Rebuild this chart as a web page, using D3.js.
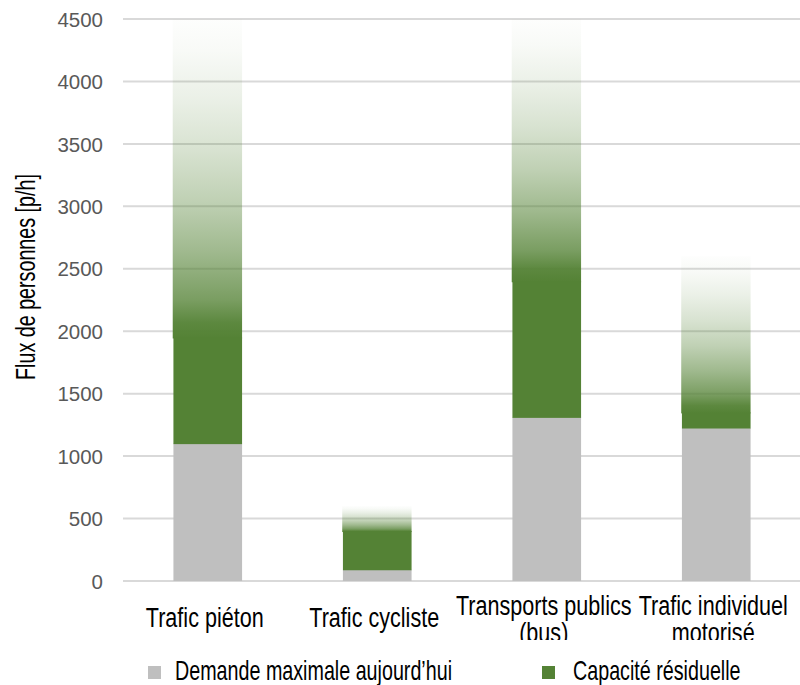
<!DOCTYPE html>
<html>
<head>
<meta charset="utf-8">
<script src="https://cdn.jsdelivr.net/npm/d3@7"></script>
<style>
  html, body { margin: 0; padding: 0; background: #ffffff; }
  svg { display: block; }
</style>
</head>
<body>
<div id="chart"></div>
<script>
// ---- Data ----
const categories = ["Trafic piéton", "Trafic cycliste", "Transports publics (bus)", "Trafic individuel motorisé"];
const categoryLines = [["Trafic piéton"], ["Trafic cycliste"], ["Transports publics", "(bus)"], ["Trafic individuel", "motorisé"]];
const demande = [1100, 90, 1310, 1225];             // Demande maximale aujourd'hui
const capaciteResiduelle = [850, 310, 1090, 125];    // Capacité résiduelle (solid part)
const capaciteIndicative = [4500, 600, 4500, 2600];  // upper end of faded capacity
const yTicks = [0, 500, 1000, 1500, 2000, 2500, 3000, 3500, 4000, 4500];
const legendLabels = ["Demande maximale aujourd’hui", "Capacité résiduelle"];
const yTitle = "Flux de personnes [p/h]";

// ---- Layout ----
const W = 800, H = 685;
const GREY = "#bfbfbf", GREEN = "#548235";
const FONT = "'Liberation Sans', Arial, sans-serif";

const svg = d3.select("#chart").append("svg").attr("width", W).attr("height", H);

const x = d3.scaleBand().domain(categories).range([123, 801]).paddingInner(0.595).paddingOuter(0.2975);
const y = d3.scaleLinear().domain([0, 4500]).range([581, 19]);

// gradient
const defs = svg.append("defs");
const grad = defs.append("linearGradient").attr("id", "fade").attr("x1", 0).attr("y1", 1).attr("x2", 0).attr("y2", 0);
[[0, 1], [0.05, 0.95], [0.12, 0.78], [0.27, 0.56], [0.43, 0.37], [0.59, 0.23], [0.75, 0.12], [0.9, 0.04], [1, 0.01]]
  .forEach(([o, a]) => grad.append("stop").attr("offset", o).attr("stop-color", GREEN).attr("stop-opacity", a));
defs.append("clipPath").attr("id", "lblclip").append("rect").attr("x", 0).attr("y", 585).attr("width", W).attr("height", 55);

// gridlines + y labels
const yAxis = d3.axisLeft(y).tickValues(yTicks).tickFormat(d3.format("d")).tickSize(0).tickPadding(0);
const gy = svg.append("g").attr("transform", "translate(103,0)").call(yAxis);
gy.select(".domain").remove();
gy.selectAll("text").attr("font-family", FONT).attr("font-size", 20.5)
  .attr("fill", "#595959").attr("dy", "0.35em").attr("x", 0);

svg.append("g").selectAll("line").data(yTicks).join("line")
  .attr("x1", 123).attr("x2", 800).attr("y1", d => y(d)).attr("y2", d => y(d))
  .attr("stroke", "#d9d9d9").attr("stroke-width", 2);

// bars
const idx = d3.range(categories.length);
const bars = svg.append("g");
bars.selectAll("rect.dem").data(idx).join("rect").attr("class", "dem")
  .attr("x", i => x(categories[i])).attr("width", x.bandwidth())
  .attr("y", i => y(demande[i])).attr("height", i => y(0) - y(demande[i]))
  .attr("fill", GREY);
bars.selectAll("rect.cap").data(idx).join("rect").attr("class", "cap")
  .attr("x", i => x(categories[i])).attr("width", x.bandwidth())
  .attr("y", i => y(demande[i] + capaciteResiduelle[i]))
  .attr("height", i => y(demande[i]) - y(demande[i] + capaciteResiduelle[i]) + 0.5)
  .attr("fill", GREEN);
bars.selectAll("rect.fade").data(idx).join("rect").attr("class", "fade")
  .attr("x", i => x(categories[i]) - 0.7).attr("width", x.bandwidth() + 0.7)
  .attr("y", i => y(capaciteIndicative[i]))
  .attr("height", i => y(demande[i] + capaciteResiduelle[i]) - y(capaciteIndicative[i]) + 1)
  .attr("fill", "url(#fade)");

// category labels (one text per category, lines as tspans)
const lbl = svg.append("g").attr("clip-path", "url(#lblclip)");
idx.forEach(i => {
  const lines = categoryLines[i];
  const cx = x(categories[i]) + x.bandwidth() / 2 - 3;
  const y0 = lines.length === 1 ? 627 : 615;
  const t = lbl.append("text")
    .attr("transform", `translate(${cx},${y0}) scale(0.785,1)`)
    .attr("text-anchor", "middle")
    .attr("font-family", FONT).attr("font-size", 27.5)
    .attr("fill", "#000");
  lines.forEach((s, j) => {
    t.append("tspan").attr("x", 0).attr("y", j * 27).text(s);
  });
});

// y title
svg.append("text")
  .attr("transform", `translate(35,277) rotate(-90) scale(0.73,1)`)
  .attr("text-anchor", "middle")
  .attr("font-family", FONT).attr("font-size", 27)
  .attr("fill", "#000").text(yTitle);

// legend
const legendItems = [
  { label: legendLabels[0], color: GREY, sx: 148, tx: 175 },
  { label: legendLabels[1], color: GREEN, sx: 542, tx: 573 }
];
const lg = svg.append("g");
legendItems.forEach(d => {
  lg.append("rect").attr("x", d.sx).attr("y", 666).attr("width", 13).attr("height", 13).attr("fill", d.color);
  lg.append("text")
    .attr("transform", `translate(${d.tx},680) scale(0.73,1)`)
    .attr("font-family", FONT).attr("font-size", 27)
    .attr("fill", "#000").text(d.label);
});
</script>
</body>
</html>
